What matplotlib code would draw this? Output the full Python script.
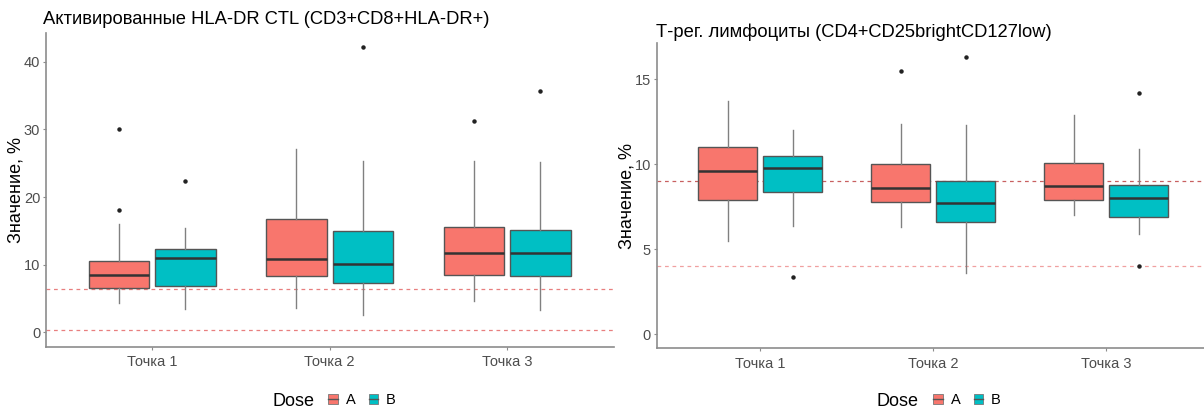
"""
two box plots side by side, Dose A vs B at three time points
"""

import matplotlib as mpl
mpl.use("Agg")
import matplotlib.pyplot as plt
from matplotlib.patches import Patch
from matplotlib.lines import Line2D
from matplotlib.legend_handler import HandlerTuple

plt.rcParams["font.family"] = ["Liberation Sans", "DejaVu Sans"]

points = ["Точка 1", "Точка 2", "Точка 3"]
doses = ["A", "B"]
dose_colors = ["#F8766D", "#00BFC4"]

# panel 1: activated HLA-DR CTL, values per dose per point
# (q1, median, q3, whisker low, whisker high)
ctl_a = [(6.5, 8.5, 10.5, 4.3, 16.0), (8.4, 10.9, 16.8, 3.6, 27.1), (8.5, 11.8, 15.6, 4.7, 25.4)]
ctl_b = [(6.8, 11.0, 12.4, 3.4, 15.5), (7.3, 10.1, 15.0, 2.6, 25.4), (8.3, 11.7, 15.2, 3.3, 25.2)]
ctl_a_out = [[18.1, 30.0], [], [31.2]]
ctl_b_out = [[22.4], [42.2], [35.7]]
ctl_ref = [0.35, 6.45]
ctl_ticks = [0, 10, 20, 30, 40]

# panel 2: T-reg lymphocytes
treg_a = [(7.9, 9.6, 11.0, 5.5, 13.7), (7.8, 8.6, 10.0, 6.3, 12.4), (7.9, 8.7, 10.1, 7.0, 12.9)]
treg_b = [(8.4, 9.8, 10.5, 6.4, 12.0), (6.6, 7.7, 9.0, 3.6, 12.3), (6.9, 8.0, 8.8, 5.9, 10.9)]
treg_a_out = [[], [15.5], []]
treg_b_out = [[3.4], [16.3], [4.0, 14.2]]
treg_ref = [4.0, 9.0]
treg_ticks = [0, 5, 10, 15]


def panel(ax, title, title_xy, series, outliers, refs, ref_colors, yticks, label_x):
    # build bxp stats from the summary numbers
    offsets = [-0.1875, 0.1875]
    allv = [0.0]
    for k in range(2):
        stats = []
        for i, (q1, med, q3, lo, hi) in enumerate(series[k]):
            stats.append(dict(q1=q1, med=med, q3=q3, whislo=lo, whishi=hi,
                              fliers=outliers[k][i]))
            allv += [lo, hi] + outliers[k][i]
        pos = [i + 1 + offsets[k] for i in range(len(points))]
        ax.bxp(stats, positions=pos, widths=0.34, patch_artist=True,
               showcaps=False,
               boxprops=dict(facecolor=dose_colors[k], edgecolor="#555555", linewidth=1.0),
               medianprops=dict(color="#333333", linewidth=1.8),
               whiskerprops=dict(color="#808080", linewidth=1.0),
               flierprops=dict(marker="o", markersize=2.2, markerfacecolor="#222222",
                               markeredgecolor="#222222"))

    # reference lines
    for r, c in zip(refs, ref_colors):
        ax.axhline(r, color=c, linestyle=(0, (3, 3)), linewidth=0.9, zorder=0)

    lo, hi = min(allv), max(allv)
    pad = 0.05 * (hi - lo)
    ax.set_ylim(lo - pad, hi + pad)
    ax.set_yticks(yticks)
    ax.set_xlim(0.4, len(points) + 0.6)
    ax.set_xticks(range(1, len(points) + 1))
    ax.set_xticklabels(points)

    for s in ["top", "right"]:
        ax.spines[s].set_visible(False)
    for s in ["left", "bottom"]:
        ax.spines[s].set_color("#8c8c8c")
        ax.spines[s].set_linewidth(1.2)
    ax.tick_params(colors="#8c8c8c", labelcolor="#4d4d4d", labelsize=10.5, length=2.5)
    ax.tick_params(axis="y", pad=1.5)
    ax.set_ylabel("Значение, %", fontsize=13, va="center")
    ax.yaxis.set_label_coords(label_x, 0.5)

    fig.text(title_xy[0] / 1204, 1 - title_xy[1] / 411, title, fontsize=13.2,
             va="center", ha="left")


fig = plt.figure(figsize=(12.04, 4.11), dpi=100)
ax1 = fig.add_axes([0.038, 0.1565, 0.4716, 0.764])
ax2 = fig.add_axes([0.5453, 0.1526, 0.4597, 0.742])

panel(ax1, "Активированные HLA-DR CTL (CD3+CD8+HLA-DR+)", (43, 19),
      [ctl_a, ctl_b], [ctl_a_out, ctl_b_out], ctl_ref, ["#e87f7f", "#e87f7f"],
      ctl_ticks, -0.053)
panel(ax2, "Т-рег. лимфоциты (CD4+CD25brightCD127low)", (656, 32),
      [treg_a, treg_b], [treg_a_out, treg_b_out], treg_ref, ["#f0a0a0", "#c86060"],
      treg_ticks, -0.053)

# legends below each panel, ggplot-like "Dose  [A]  [B]"
for cx in (272, 877):
    fig.text(cx / 1204, 1 - 401 / 411, "Dose", fontsize=13, va="center", ha="left")
    handles = [(Patch(facecolor=c, edgecolor="#777777", linewidth=0.6),
                Line2D([], [], color="#555555", linewidth=1.0)) for c in dose_colors]
    fig.legend(handles, doses, ncol=2, frameon=False, fontsize=10.5,
               loc="center left", bbox_to_anchor=((cx + 49) / 1204, 1 - 400 / 411),
               handler_map={tuple: HandlerTuple(ndivide=1)},
               handlelength=0.65, handleheight=0.65, handletextpad=0.55,
               columnspacing=0.9, borderpad=0)

plt.savefig("out.png", dpi=100)
plt.close()
